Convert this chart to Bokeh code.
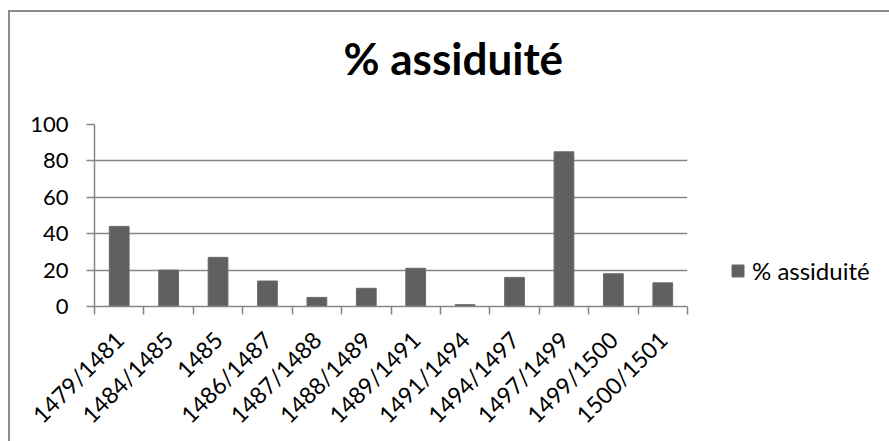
import math
from bokeh.plotting import figure
from bokeh.models import FixedTicker, Legend, LegendItem, ColumnDataSource, Range1d, Title
from bokeh.embed import file_html
from bokeh.resources import INLINE

categories = ["1479/1481", "1484/1485", "1485", "1486/1487", "1487/1488", "1488/1489",
              "1489/1491", "1491/1494", "1494/1497", "1497/1499", "1499/1500", "1500/1501"]
assiduite = [44, 20, 27, 14, 5, 10, 21, 1, 16, 85, 18, 13]
y_ticks = [0, 20, 40, 60, 80, 100]
series_name = "% assiduité"
chart_title = "% assiduité"

n = len(categories)
centers = [i + 0.5 for i in range(n)]
src = ColumnDataSource(dict(x=centers, top=assiduite, cat=categories))

GRAY = "#868686"
FONT = "Lato"

p = figure(frame_width=593, frame_height=182,
           min_border_left=84, min_border_right=202, min_border_top=112, min_border_bottom=135,
           x_range=Range1d(0, n), y_range=Range1d(0, 100),
           output_backend="svg", toolbar_location=None, tools="")
# chart-area border: only top and left are visible in the reference (it runs past the window)
p.styles = {"margin-left": "8px", "margin-top": "10px",
            "border-left": "2px solid #8c8c8c", "border-top": "2px solid #8c8c8c",
            "border-right": "none", "border-bottom": "none"}
p.outline_line_color = None
p.background_fill_color = "white"
p.border_fill_color = "white"

bars = p.vbar(x="x", top="top", width=0.4, bottom=0, source=src,
              fill_color="#606060", line_color="#6a6a6a", line_width=1)

# spacer panel between the frame and the title
p.add_layout(Title(text=" ", text_font_size="1px", standoff=33), "above")

# title
p.title.text = chart_title
p.title.align = "left"
p.title.offset = 249
p.title.text_font = FONT
p.title.text_font_style = "bold"
p.title.text_font_size = "44px"
p.title.text_color = "black"
p.title.standoff = 10

# y axis
p.yaxis.ticker = FixedTicker(ticks=y_ticks)
p.yaxis.axis_line_color = GRAY
p.yaxis.axis_line_width = 1.5
p.yaxis.major_tick_line_color = GRAY
p.yaxis.major_tick_line_width = 1.5
p.yaxis.major_tick_out = 8
p.yaxis.major_tick_in = 0
p.yaxis.minor_tick_line_color = None
p.yaxis.major_label_standoff = 18
p.yaxis.major_label_text_font = FONT
p.yaxis.major_label_text_font_size = "22px"
p.yaxis.major_label_text_color = "black"

# x axis: labels under the category centres, ticks between categories
p.xaxis.ticker = FixedTicker(ticks=centers, minor_ticks=list(range(n + 1)))
p.xaxis.major_label_overrides = {c: lab for c, lab in zip(centers, categories)}
p.xaxis.major_label_orientation = math.pi / 4
p.xaxis.axis_line_color = GRAY
p.xaxis.axis_line_width = 1.5
p.xaxis.major_tick_line_color = None
p.xaxis.major_tick_out = 8
p.xaxis.major_tick_in = 0
p.xaxis.minor_tick_line_color = GRAY
p.xaxis.minor_tick_line_width = 1.5
p.xaxis.minor_tick_out = 8
p.xaxis.minor_tick_in = 0
p.xaxis.major_label_standoff = 21
p.xaxis.major_label_text_font = FONT
p.xaxis.major_label_text_font_size = "23px"
p.xaxis.major_label_text_color = "black"

p.xgrid.grid_line_color = None
p.ygrid.ticker = FixedTicker(ticks=y_ticks)
p.ygrid.grid_line_color = GRAY
p.ygrid.grid_line_width = 1.5

legend = Legend(items=[LegendItem(label=series_name, renderers=[bars])],
                location=(43, 21), orientation="vertical",
                glyph_width=15, glyph_height=15, label_standoff=7,
                padding=0, margin=0, spacing=0,
                label_text_font=FONT, label_text_font_size="24px", label_text_color="black",
                border_line_alpha=0, background_fill_alpha=0)
p.add_layout(legend, "right")

open("out.html", "w").write(file_html(p, INLINE))
